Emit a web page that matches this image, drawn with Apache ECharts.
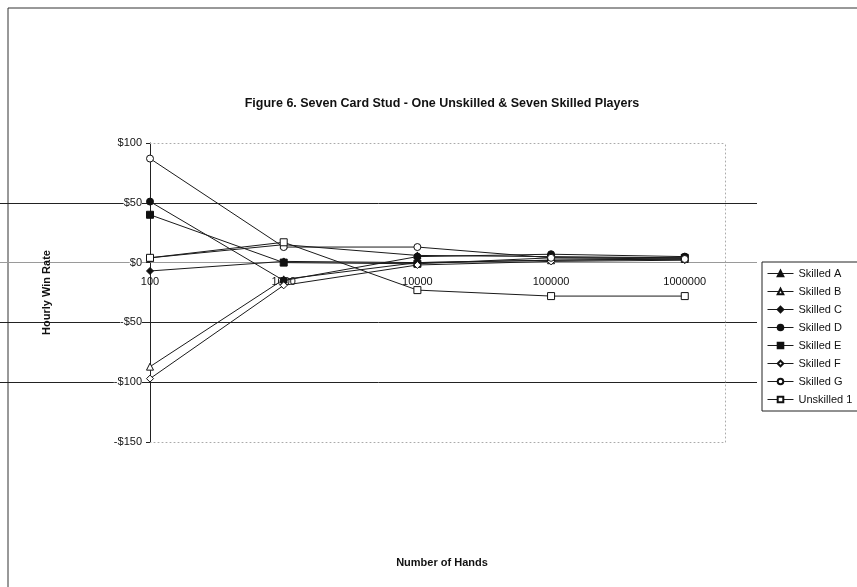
<!DOCTYPE html>
<html><head><meta charset="utf-8">
<script src="https://cdn.jsdelivr.net/npm/echarts@6/dist/echarts.min.js"></script>
<style>html,body{margin:0;padding:0;background:#fff}#c{width:857px;height:587px}</style>
</head><body><div id="c"></div>
<script>
const hands = [100, 1000, 10000, 100000, 1000000];
const xTicks = ['100', '1000', '10000', '100000', '1000000'];
const yTicks = ['-$150', '-$100', '-$50', '$0', '$50', '$100'];
const skilledA = [4, 15, 6, 5, 4];
const skilledB = [-87, -14, 0, 2, 3];
const skilledC = [-7, 1, 0, 2, 3];
const skilledD = [51, -15, 5, 7, 5];
const skilledE = [40, 0, -1, 4, 4];
const skilledF = [-97, -19, -2, 1, 2];
const skilledG = [87, 13, 13, 4, 3];
const unskilled1 = [4, 17, -23, -28, -28];

const seriesDefs = [
  ['Skilled A', skilledA, 'triangle', true],
  ['Skilled B', skilledB, 'triangle', false],
  ['Skilled C', skilledC, 'diamond', true],
  ['Skilled D', skilledD, 'circle', true],
  ['Skilled E', skilledE, 'rect', true],
  ['Skilled F', skilledF, 'diamond', false],
  ['Skilled G', skilledG, 'circle', false],
  ['Unskilled 1', unskilled1, 'rect', false]
];

const FONT = 'Liberation Sans, Arial, sans-serif';
const TOP = 143, BOTTOM = 587 - 442;
const plotH = 587 - TOP - BOTTOM;
const zeroOffset = -plotH * 150 / 250;

const chart = echarts.init(document.getElementById('c'), null, {renderer: 'canvas'});
chart.setOption({
  backgroundColor: '#fff',
  animation: false,
  graphic: [
    {type: 'rect', shape: {x: 8, y: 8, width: 900, height: 600}, style: {fill: 'none', stroke: '#333', lineWidth: 1}, silent: true}
  ],
  title: [
    {
      text: 'Figure 6. Seven Card Stud - One Unskilled & Seven Skilled Players',
      left: 437, top: 92, textAlign: 'center',
      textStyle: {fontFamily: FONT, fontSize: 12.5, fontWeight: 'bold', color: '#111'}
    },
    {
      text: 'Number of Hands', left: 437, top: 552, textAlign: 'center',
      textStyle: {fontFamily: FONT, fontSize: 11, fontWeight: 'bold', color: '#111'}
    }
  ],
  legend: {
    orient: 'vertical', left: 762, top: 262,
    itemWidth: 26, itemHeight: 7, itemGap: 7,
    borderColor: '#222', borderWidth: 1, padding: [6, 10, 6, 5],
    lineStyle: {width: 1},
    textStyle: {fontFamily: FONT, fontSize: 11, color: '#111'},
    data: seriesDefs.map(d => d[0])
  },
  grid: [
    {left: 150, right: 857 - 725, top: TOP, bottom: BOTTOM, containLabel: false},
    {left: 0, right: 857 - 757, top: TOP, bottom: BOTTOM, containLabel: false}
  ],
  xAxis: [
    {
      gridIndex: 0, type: 'log', logBase: 10, min: 100, max: 2000000,
      position: 'bottom', offset: zeroOffset,
      axisLine: {onZero: false, lineStyle: {color: '#999', width: 1}},
      axisTick: {show: true, inside: true, length: 3, lineStyle: {color: '#444'}},
      minorTick: {show: false},
      axisLabel: {showMaxLabel: false, fontFamily: FONT, fontSize: 11, color: '#111', margin: 14,
        formatter: v => { const i = hands.indexOf(Math.round(v)); return i >= 0 ? xTicks[i] : ''; }},
      splitLine: {show: false}
    },
    {
      gridIndex: 0, type: 'value', min: 0, max: 1, position: 'bottom', offset: 0,
      axisLine: {onZero: false, lineStyle: {color: '#aaa', type: [1, 3], width: 1}},
      axisTick: {show: false}, axisLabel: {show: false}, splitLine: {show: false}
    },
    {
      gridIndex: 0, type: 'value', min: 0, max: 1, position: 'top',
      axisLine: {onZero: false, lineStyle: {color: '#aaa', type: [1, 3], width: 1}},
      axisTick: {show: false}, axisLabel: {show: false}, splitLine: {show: false}
    },
    {
      gridIndex: 1, type: 'value', min: 0, max: 1, show: false
    }
  ],
  yAxis: [
    {
      gridIndex: 0, type: 'value', min: -150, max: 100, interval: 50, position: 'left',
      name: 'Hourly Win Rate', nameLocation: 'middle', nameGap: 98, nameRotate: 90,
      nameTextStyle: {fontFamily: FONT, fontSize: 11, fontWeight: 'bold', color: '#111'},
      axisLine: {show: true, onZero: false, lineStyle: {color: '#222'}},
      axisTick: {show: true, length: 4, lineStyle: {color: '#222'}},
      axisLabel: {fontFamily: FONT, fontSize: 11, color: '#111', margin: 8, backgroundColor: '#fff',
        formatter: v => yTicks[Math.round((v + 150) / 50)]},
      splitLine: {show: false}
    },
    {
      gridIndex: 0, type: 'value', min: -150, max: 100, interval: 50, position: 'right',
      axisLine: {show: true, onZero: false, lineStyle: {color: '#aaa', type: [1, 3]}},
      axisTick: {show: false}, axisLabel: {show: false}, splitLine: {show: false}
    },
    {
      gridIndex: 1, type: 'value', min: -150, max: 100, interval: 50,
      axisLine: {show: false}, axisTick: {show: false}, axisLabel: {show: false},
      splitLine: {show: true, lineStyle: {color: ['rgba(0,0,0,0)', '#222', '#222', '#9a9a9a', '#222', 'rgba(0,0,0,0)'], width: 1}}
    }
  ],
  series: seriesDefs.map(([name, vals, sym, filled]) => ({
    name, type: 'line', xAxisIndex: 0, yAxisIndex: 0,
    data: hands.map((h, i) => [h, vals[i]]),
    symbol: sym, symbolSize: 7,
    z: 5,
    lineStyle: {color: '#1a1a1a', width: 1},
    itemStyle: {color: filled ? '#111' : '#fff', borderColor: '#111', borderWidth: 1},
    emphasis: {disabled: true}
  }))
});
</script>
</body></html>
